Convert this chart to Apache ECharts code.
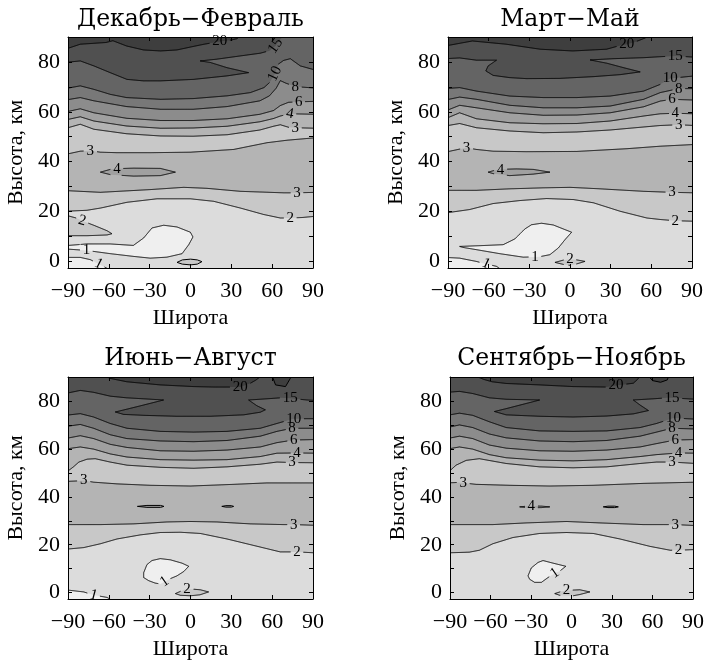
<!DOCTYPE html>
<html><head><meta charset="utf-8">
<script src="https://cdn.jsdelivr.net/npm/echarts@6/dist/echarts.min.js"></script>
<style>html,body{margin:0;background:#fff}#c{width:708px;height:661px}</style>
</head><body><div id="c"></div>
<script>
// ---------- axis ticks / labels ----------
const LAT_TICKS = [-90, -60, -30, 0, 30, 60, 90];
const ALT_LABELS = [0, 20, 40, 60, 80];
const ALT_TICKS = [0, 10, 20, 30, 40, 50, 60, 70, 80];
const LEVELS = [1, 2, 3, 4, 6, 8, 10, 15, 20];
const SHADES = ['#efefef','#dcdcdc','#c8c8c8','#b4b4b4','#a0a0a0','#8c8c8c','#787878','#646464','#505050','#3e3e3e'];
const TITLES = ['Декабрь−Февраль', 'Март−Май', 'Июнь−Август', 'Сентябрь−Ноябрь'];
const X_NAME = 'Широта';
const Y_NAME = 'Высота, км';
const YMIN = -2.65, YMAX = 90;

// ---------- Dec-Feb contour lines [lat, alt] ----------
const djf_c1a = [[-90,1.6],[-81,1.6],[-73.6,0.7],[-67.5,-1.0],[-61.3,-2.8]];
const djf_c1b = [[-90,6.3],[-76,7.0],[-59,7.0],[-42,6.4],[-34.4,9.4],[-28.3,13.4],[-19.7,14.5],[-9.9,13.8],[-0.1,11.7],[1.8,9.8],[-1.3,6.7],[-6.2,3.1],[-17.3,1.7],[-29.5,1.3],[-41.8,2.0],[-58.9,3.1],[-76.5,4.4],[-90,5.0]];
const djf_c2b = [[-90,18.6],[-84,17.4],[-79.7,16.3],[-71.1,14.5],[-61.3,12.3],[-57.7,11.1],[-61.3,10.6],[-76,10.3],[-90,10.3]];
const djf_c2c = [[-9.9,-0.4],[-6,0.6],[0,0.9],[5,0.6],[8.4,-0.1],[5,-1.1],[0,-1.4],[-6,-1.1]];
const djf_c2 = [[-90,20.1],[-76,20.5],[-66,21.4],[-46.7,23.7],[-24.6,25.1],[-0.1,25.1],[17,24.1],[36.6,21.4],[53.8,18.8],[66,17.4],[73.3,17.4],[82,17.6],[90,18.1]];
const djf_c3a = [[-90,28.4],[-66.2,27.7],[-29.5,28.8],[-5,29.7],[12.1,29.3],[36.6,28.1],[68.5,27.5],[78.2,27.5],[90,27.7]];
const djf_c4b = [[-66.2,35.8],[-58.9,36.9],[-54,37.2],[-41.8,37.4],[-22.2,37.3],[-11.1,35.8],[-22.2,34.4],[-41.8,34.2],[-58.9,34.8]];
const djf_c3b = [[-90,42.9],[-81,44.2],[-73.6,44.4],[-66.2,43.8],[-54,43.6],[-29.5,43.6],[0,43.8],[31.7,44.9],[56.2,47.6],[70.9,48.6],[90,49.6]];
const djf_c3c = [[-90,53.3],[-81,55],[-71,53],[-47,51.2],[-22,50.3],[2,50.2],[27,50.8],[51,52.7],[61,54.2],[66,54.8],[72,53.8],[77,53.6],[90,53.4]];
const djf_c4 = [[-90,56.7],[-81,58],[-71,56.3],[-47,54.3],[-22,53.4],[2,53.5],[27,54.2],[51,56],[61,57.3],[66,58.3],[73,59.2],[90,59]];
const djf_c6 = [[-90,59.9],[-81,61.2],[-71,59.6],[-47,57.4],[-22,56.5],[2,56.5],[27,57.2],[51,59],[61,60.5],[66,62.5],[72,63.8],[79.5,64],[90,64.2]];
const djf_c8 = [[-90,64.7],[-81,65.7],[-71,64.4],[-47,62.1],[-22,61],[2,61],[27,62.1],[51,64.4],[58,66.4],[63,69.5],[66,72.5],[70,71.5],[77,70.1],[90,69.5]];
const djf_c10 = [[-90,69.3],[-81,70.4],[-71,69],[-59,67],[-47,65.7],[-22,65],[2,65.3],[27,66.4],[44,67.7],[54,69.7],[58,71.7],[62,75.2],[64.5,79.1],[68.4,80.6],[73.3,81.3],[80.7,78.4],[90,76.7]];
const djf_c15 = [[-90,79.8],[-81,80.4],[-71,78.4],[-59,75.7],[-46.7,73],[-34.5,72.4],[-22,72.4],[2.3,73],[26.8,74.4],[42.7,75.7],[26.8,77.7],[14.5,79.8],[7.1,80.4],[19.3,81.1],[36.5,82.4],[51.3,83.5],[58,84.5],[62.5,86.5],[66,89.1],[68.5,90.5]];
const djf_c20 = [[-90,85.1],[-81,87.1],[-62,87.8],[-57,88.5],[-47,86.4],[-34.5,84.8],[-22,84.4],[-10,84.8],[2,86.2],[10,87.1],[21.5,88.2],[30,88.8],[34,89.3],[37,90.5]];

// ---------- Mar-May ----------
const mam_c1a = [[-90,1.6],[-81.4,1.3],[-69.2,0],[-62,-1],[-54.2,-2.0],[-52,-2.8]];
const mam_c1b = [[-81.4,6.0],[-66.6,6.3],[-49.3,6.7],[-40.7,9.0],[-33.3,13.0],[-28.4,14.7],[-21,15.3],[-12.3,14.6],[-4.9,13.0],[1.2,11.7],[-3.7,8.7],[-8.6,5.4],[-14.8,2.7],[-22.2,1.9],[-25.9,1.8],[-34.5,1.7],[-51.8,3.1],[-69,4.7],[-78.9,5.6]];
const mam_c2c = [[-11.1,-0.4],[-5,0.5],[0,0.9],[5,0.6],[11.1,0],[5,-1.0],[0,-1.6],[-5,-1.2]];
const mam_c2 = [[-90,19.4],[-74,20.8],[-56.7,23.2],[-37,24.4],[-17.3,25.2],[2.5,24.8],[17.3,23.5],[37,20.1],[56.7,17.4],[66.6,16.8],[77.7,16.3],[90,16.1]];
const mam_c3a = [[-90,28.5],[-69,28.5],[-44.4,29.1],[-19.7,29.5],[0,29.7],[22.2,29.1],[54.3,28.1],[75.2,27.7],[90,27.5]];
const mam_c4b = [[-60.4,35.8],[-55,36.6],[-51.8,36.9],[-39.4,37.1],[-27.1,36.9],[-14.8,35.8],[-27.1,35],[-44.4,34.4],[-56.7,35.2]];
const mam_c3b = [[-90,43.8],[-80,45.2],[-76.4,45.6],[-69,44.9],[-56.7,44.2],[-32,44],[5,44.1],[42,45.2],[66.6,46.2],[90,46.9]];
const mam_c3c = [[-90,54.3],[-81.4,55.3],[-69,53.6],[-44.4,52.3],[-19.7,51.6],[5,51.9],[29.6,52.7],[54.3,53.9],[66.6,54.5],[80.2,54.8],[90,54.5]];
const mam_c4 = [[-90,57.2],[-81.4,59.6],[-69,57.2],[-44.4,55.6],[-19.7,55.2],[5,55.3],[29.6,56.3],[54.3,58.3],[66.6,59.2],[77.7,59.4],[90,59.2]];
const mam_c6 = [[-90,60.3],[-81.4,62.6],[-69,61.6],[-44.4,59.6],[-19.7,58.6],[5,58.7],[29.6,59.6],[54.3,62],[66.6,64.3],[75.2,65],[90,64.7]];
const mam_c8 = [[-90,64.7],[-81.4,65.9],[-69,65],[-44.4,62.6],[-19.7,61.6],[5,61.6],[29.6,62.3],[54.3,65],[66.6,67.7],[80.2,69.3],[90,69.3]];
const mam_c10 = [[-90,69.3],[-81.4,69.7],[-69,68.3],[-44.4,66.3],[-19.7,65.7],[5,65.7],[29.6,66.3],[54.3,68.3],[66.6,71],[74,73.4],[90,74.4]];
const mam_c15 = [[-90,81.3],[-81.4,81.6],[-69,80.7],[-54.2,80.7],[-60.4,78.4],[-62.1,76.4],[-56.7,74.6],[-44.4,73.7],[-32,73.3],[-7.4,73.4],[17.3,74.1],[37,74.9],[51.8,76],[39.5,77.7],[27.1,79.5],[14.8,80.8],[32.1,81.3],[54.3,81.7],[66.6,82.1],[77.7,82.4],[90,81.9]];
const mam_c20 = [[-90,86.4],[-72,88.4],[-47,87.1],[-22,85.1],[2,84.4],[27,85.1],[35,86.3],[41.9,87.1],[48,88],[55,89.5],[58,90.4]];

// ---------- Jun-Aug ----------
const jja_c1a = [[-90,1.2],[-78.5,0.3],[-71.1,-1.0],[-61.3,-2],[-58.9,-2.8]];
const jja_c1b = [[-34.4,8.3],[-32,11.7],[-28.3,13.4],[-22.2,14.2],[-14.8,13.7],[-6.2,12.3],[-1.3,11],[-5,8.8],[-10,7],[-15,5.8],[-19,4.6],[-22,3.6],[-26,4],[-30.7,5],[-34.4,6.3]];
const jja_c2c = [[-11.1,-0.4],[-6,0.9],[-2.6,1.5],[3,1.4],[7.2,1.2],[13.3,0.3],[7,-0.9],[0,-1.3],[-7.5,-1.1]];
const jja_c2 = [[-90,18.1],[-78.5,18.8],[-66.2,20.4],[-54,22.4],[-36.9,24.1],[-22.2,25.1],[-7.5,25.2],[7.2,24.7],[26.8,22.4],[46.4,19.7],[66,17],[78.2,17],[90,16.6]];
const jja_c3a = [[-90,28.4],[-66.2,28.4],[-41.8,28.7],[-17.3,29.5],[0,29.7],[19.5,29.5],[44,28.7],[68.5,28.4],[75.8,28.4],[90,28.1]];
const jja_c4b = [[-39,36],[-32,36.4],[-22,36.4],[-19.5,36],[-22,35.6],[-32,35.6]];
const jja_c4c = [[23,36],[26,36.3],[30,36.3],[31.7,36],[30,35.7],[26,35.7]];
const jja_c3b = [[-90,46.4],[-84,46.6],[-78.5,46.8],[-71.1,46.1],[-54,45.4],[-29.5,44.8],[0,44.5],[31.7,45.2],[56.2,45.8],[90,45.8]];
const jja_c3c = [[-90,49.9],[-86,52.5],[-82,54.5],[-76,55.7],[-70,55.9],[-59,54.5],[-46.7,53.2],[-22.2,52.3],[2.3,51.9],[26.8,52.5],[51.3,53.6],[63.5,54.5],[74.6,54.3],[90,54.2]];
const jja_c4 = [[-90,59.9],[-81,60.8],[-71.2,59.9],[-59,57.9],[-46.7,56.6],[-22.2,55.5],[2.3,55.3],[26.8,55.5],[51.3,56.8],[63.5,58.2],[78.2,58.3],[90,58.2]];
const jja_c6 = [[-90,64.3],[-81,65.5],[-71.2,64.3],[-59,61.9],[-46.7,60.6],[-22.2,59.2],[2.3,59],[26.8,59.5],[51.3,60.8],[63.5,62.6],[75.8,63.7],[90,63.9]];
const jja_c8 = [[-90,69.3],[-81,70.2],[-71.2,68.6],[-59,65.9],[-46.7,64.3],[-22.2,63.3],[2.3,63],[26.8,63.5],[51.3,65.3],[63.5,67.3],[74.6,68.6],[90,68.6]];
const jja_c10 = [[-90,74],[-81,74.7],[-71.2,73.3],[-59,70.6],[-46.7,68.6],[-22.2,67.3],[2.3,67],[26.8,67.3],[51.3,68.6],[63.5,70.6],[75.8,72.6],[90,72.6]];
const jja_c15 = [[-90,83.1],[-81,84.4],[-71.2,83.6],[-59,82],[-46.7,81.3],[-34.5,80.9],[-19.8,80.4],[-29.6,79],[-39.4,77.6],[-51.6,75.9],[-55.3,75.4],[-49.2,74.4],[-34.5,74],[-10,73.6],[14.5,73.6],[39,74.2],[51.3,75.3],[55,76.3],[48.8,78],[42.7,80.4],[56.2,80.9],[66,81.3],[73.3,81.1],[85.6,80.4],[90,80.2]];
const jja_c20 = [[-63,90.4],[-58.9,89.4],[-46.7,88],[-22.2,86.7],[2.3,86],[17,85.8],[36.6,85.8],[44,87.4],[48,88.7],[52,90.4]];
const jja_c20b = [[60,90.4],[62.5,86.7],[69.8,86],[73.3,89.4],[74,90.4]];

// ---------- Sep-Nov ----------
const son_c1b = [[-32.2,7],[-29.8,10.3],[-24.8,12.6],[-21.1,13.4],[-13.6,12.3],[-4.2,11],[-8.7,9],[-12.4,8.1],[-17.4,6.3],[-22.3,4.3],[-27.3,4.3],[-31,5.6]];
const son_c2c = [[-12.4,-0.4],[-7,0.6],[-3.7,0.9],[2,1.1],[6.2,1.2],[13.6,0.3],[6,-0.8],[1.2,-1.3],[-8.7,-1.1]];
const son_c2 = [[-90,16.6],[-75.6,16.9],[-68.2,17.7],[-58.3,20.4],[-43.4,23],[-23.6,24.7],[-3.7,25.1],[16.1,24.7],[35.9,22.4],[58.2,19.3],[73.1,17.7],[79.3,17.7],[90,18]];
const son_c3a = [[-90,28.4],[-58.3,28.4],[-33.5,29.1],[-3.7,29.7],[21.1,29.1],[53.3,28.4],[76.8,28.4],[90,28]];
const son_c4b = [[-38.4,35.8],[-33,36.1],[-29.8,36.2],[-22,36.1],[-16.1,35.8],[-22,35.5],[-30,35.4],[-33,35.5]];
const son_c4c = [[23.5,35.8],[27,36.1],[32,36.1],[34.7,35.8],[32,35.5],[27,35.5]];
const son_c3b = [[-90,45.8],[-84,46],[-80.1,45.8],[-70.7,45.2],[-45.9,44.8],[-16.1,44.5],[16.1,44.8],[53.3,45.6],[90,46.1]];
const son_c3c = [[-90,49.9],[-85.5,53.2],[-78,55.2],[-68.3,55.9],[-48.4,53.9],[-23.6,52.5],[1.2,52.1],[26,52.5],[50.8,53.9],[63,54.5],[74.4,54.5],[90,53.9]];
const son_c4 = [[-90,59.9],[-83,60.8],[-73.2,59.9],[-60.8,57.6],[-48.4,56.3],[-23.6,55.3],[1.2,55],[26,55.5],[50.8,56.8],[63,57.6],[79.3,58.3],[90,58.2]];
const son_c6 = [[-90,64.3],[-83,65.3],[-73.2,64.3],[-60.8,61.6],[-48.4,60.3],[-23.6,59.2],[1.2,59],[26,59.5],[50.8,60.8],[63,62.2],[76.8,63.7],[90,63.9]];
const son_c8 = [[-90,68.9],[-83,70],[-73.2,68.9],[-60.8,66.2],[-48.4,64.6],[-23.6,63.3],[1.2,63],[26,63.5],[50.8,65.3],[63,67],[74.4,68.6],[90,68.3]];
const son_c10 = [[-90,74],[-83,74.9],[-73.2,74],[-60.8,71.3],[-48.4,68.9],[-23.6,67.5],[1.2,67.3],[26,67.5],[50.8,68.9],[63,70.6],[75.6,72.9],[90,72.4]];
const son_c15 = [[-90,83.6],[-83,84],[-73.2,83.1],[-60.8,81.3],[-48.4,80.7],[-23.6,80.4],[-36,78.6],[-48.4,76.8],[-57.1,75.6],[-48.4,74.2],[-23.6,73.6],[1.2,73.3],[26,73.7],[45.8,74.6],[57,76],[50.8,78.3],[45.8,80.4],[60.7,80.9],[70.6,81.3],[74.4,81.3],[90,80.7]];
const son_c20 = [[-71,90.4],[-65,89],[-58.8,88],[-48.4,87.3],[-23.6,86.7],[1.2,86],[26,85.8],[33,86.5],[45.8,87.4],[48.4,88.7],[51,90.4]];
const son_c20b = [[57,90.4],[60,88.5],[66,87.8],[71,88.8],[72,90.4]];

// ---------- layers: [line, shade index of the side it encloses, mode] ----------
const djf_fills = [
  [djf_c2,2,'up'],[djf_c3a,3,'up'],[djf_c3b,2,'up'],[djf_c3c,3,'up'],[djf_c4,4,'up'],[djf_c6,5,'up'],
  [djf_c8,6,'up'],[djf_c10,7,'up'],[djf_c15,8,'up'],[djf_c20,9,'up'],
  [djf_c1a,0,'down'],[djf_c1b,0,'closed'],[djf_c2b,2,'closed'],[djf_c2c,2,'closed'],[djf_c4b,4,'closed']];
const mam_fills = [
  [mam_c2,2,'up'],[mam_c3a,3,'up'],[mam_c3b,2,'up'],[mam_c3c,3,'up'],[mam_c4,4,'up'],[mam_c6,5,'up'],
  [mam_c8,6,'up'],[mam_c10,7,'up'],[mam_c15,8,'up'],[mam_c20,9,'up'],
  [mam_c1a,0,'down'],[mam_c1b,0,'closed'],[mam_c2c,2,'closed'],[mam_c4b,4,'closed']];
const jja_fills = [
  [jja_c2,2,'up'],[jja_c3a,3,'up'],[jja_c3b,2,'up'],[jja_c3c,3,'up'],[jja_c4,4,'up'],[jja_c6,5,'up'],
  [jja_c8,6,'up'],[jja_c10,7,'up'],[jja_c15,8,'up'],[jja_c20,9,'up'],[jja_c20b,9,'closed'],
  [jja_c1a,0,'down'],[jja_c1b,0,'closed'],[jja_c2c,2,'closed'],[jja_c4b,4,'closed'],[jja_c4c,4,'closed']];
const son_fills = [
  [son_c2,2,'up'],[son_c3a,3,'up'],[son_c3b,2,'up'],[son_c3c,3,'up'],[son_c4,4,'up'],[son_c6,5,'up'],
  [son_c8,6,'up'],[son_c10,7,'up'],[son_c15,8,'up'],[son_c20,9,'up'],[son_c20b,9,'closed'],
  [son_c1b,0,'closed'],[son_c2c,2,'closed'],[son_c4b,4,'closed'],[son_c4c,4,'closed']];

// ---------- contour labels: [line, text, lat, alt, rotation deg] ----------
const djf_labels = [
  [djf_c20,'20',21.5,88.2,0],[djf_c15,'15',62.5,86.5,55],[djf_c10,'10',62,75.2,65],[djf_c8,'8',77,70.1,0],
  [djf_c6,'6',79.5,64,0],[djf_c4,'4',73,59.2,-10],[djf_c3c,'3',77,53.6,0],[djf_c3b,'3',-73.6,44.4,0],
  [djf_c4b,'4',-54,36.9,0],[djf_c3a,'3',78.2,27.5,0],[djf_c2,'2',73.3,17.4,0],[djf_c2b,'2',-79.7,16.3,-15],
  [djf_c1b,'1',-76.5,4.4,0],[djf_c1a,'1',-67.5,-1.0,-27]];
const mam_labels = [
  [mam_c20,'20',41.9,87.1,0],[mam_c15,'15',77.7,82.4,0],[mam_c10,'10',74,73.4,0],[mam_c8,'8',80.2,69.3,0],
  [mam_c6,'6',75.2,65,0],[mam_c4,'4',77.7,59.4,0],[mam_c3c,'3',80.2,54.8,0],[mam_c3b,'3',-76.4,45.6,0],
  [mam_c4b,'4',-51.3,36.8,0],[mam_c3a,'3',75.2,27.7,0],[mam_c2,'2',77.7,16.3,0],[mam_c1b,'1',-25.9,1.8,0],
  [mam_c2c,'2',0,0.9,0],[mam_c1a,'1',-62,-1,-25]];
const jja_labels = [
  [jja_c20,'20',36.6,85.8,0],[jja_c15,'15',73.3,81.1,0],[jja_c10,'10',75.8,72.6,0],[jja_c8,'8',74.6,68.6,0],
  [jja_c6,'6',75.8,63.7,0],[jja_c4,'4',78.2,58.3,0],[jja_c3c,'3',74.6,54.3,0],[jja_c3b,'3',-78.5,46.8,0],
  [jja_c3a,'3',75.8,28.4,0],[jja_c2,'2',78.2,17,0],[jja_c1b,'1',-19,4.6,35],[jja_c2c,'2',-2.6,1.5,0],
  [jja_c1a,'1',-71.1,-1.0,-15]];
const son_labels = [
  [son_c20,'20',33,86.5,0],[son_c15,'15',74.4,81.3,0],[son_c10,'10',75.6,72.9,0],[son_c8,'8',74.4,68.6,0],
  [son_c6,'6',76.8,63.7,0],[son_c4,'4',79.3,58.3,0],[son_c3c,'3',74.4,54.5,0],[son_c3b,'3',-80.1,45.8,0],
  [son_c4b,'4',-29.8,36,0],[son_c3a,'3',76.8,28.4,0],[son_c2,'2',79.3,17.7,0],[son_c1b,'1',-12.4,8.1,35],
  [son_c2c,'2',-3.7,0.9,0]];

const PANEL_FILLS = [djf_fills, mam_fills, jja_fills, son_fills];
const PANEL_LABELS = [djf_labels, mam_labels, jja_labels, son_labels];
const GRIDS = [
  {left: 68, top: 37, width: 245, height: 231},
  {left: 448, top: 37, width: 244, height: 231},
  {left: 68, top: 377, width: 245, height: 230},
  {left: 450, top: 377, width: 243, height: 230}];

const SERIF = '"Liberation Serif", "Times New Roman", serif';
const TITLE_FONT = '"DejaVu Serif", serif';
const LABEL_FS = 15;

function fmt(v) { return v < 0 ? '\u2212' + (-v) : String(v); }
function ex(p) { return [p[0] <= -90 ? -92 : (p[0] >= 90 ? 92 : p[0]), p[1]]; }

function labelBoxes(labels, line, api) {
  return labels.filter(l => l[0] === line).map(l => {
    const c = api.coord([l[2], l[3]]);
    return {x: c[0], y: c[1], hw: l[1].length * LABEL_FS * 0.25 + 2.5, hh: LABEL_FS * 0.33 + 1, r: l[4] * Math.PI / 180};
  });
}
function inGap(x, y, gaps) {
  for (const g of gaps) {
    const dx = x - g.x, dy = y - g.y;
    const u = dx * Math.cos(g.r) - dy * Math.sin(g.r);
    const v = dx * Math.sin(g.r) + dy * Math.cos(g.r);
    if (Math.abs(u) < g.hw && Math.abs(v) < g.hh) return true;
  }
  return false;
}
function cutRuns(pix, gaps) {
  if (!gaps.length) return [pix];
  const runs = []; let cur = [];
  for (let i = 0; i < pix.length - 1; i++) {
    const [x0, y0] = pix[i], [x1, y1] = pix[i + 1];
    const n = Math.max(1, Math.ceil(Math.hypot(x1 - x0, y1 - y0) / 0.5));
    for (let k = (i === 0 ? 0 : 1); k <= n; k++) {
      const t = k / n, x = x0 + (x1 - x0) * t, y = y0 + (y1 - y0) * t;
      if (inGap(x, y, gaps)) { if (cur.length > 1) runs.push(cur); cur = []; }
      else cur.push([x, y]);
    }
  }
  if (cur.length > 1) runs.push(cur);
  return runs;
}

const xAxes = [], yAxes = [], series = [], graphics = [];
GRIDS.forEach((g, pi) => {
  const common = {type: 'value', gridIndex: pi, z: 10, splitLine: {show: false},
    axisLine: {show: true, onZero: false, lineStyle: {color: '#000', width: 1}}};
  const nameStyle = {fontFamily: SERIF, fontSize: 22, color: '#000'};
  xAxes.push(Object.assign({}, common, {position: 'bottom', min: -90, max: 90, interval: 30,
    axisTick: {show: true, inside: true, length: 4, customValues: LAT_TICKS, lineStyle: {color: '#000'}},
    axisLabel: {show: true, customValues: LAT_TICKS, formatter: fmt, margin: 12, color: '#000', fontFamily: SERIF, fontSize: 22},
    name: X_NAME, nameLocation: 'middle', nameGap: 39, nameTextStyle: nameStyle}));
  xAxes.push(Object.assign({}, common, {position: 'top', min: -90, max: 90, interval: 30,
    axisTick: {show: true, inside: true, length: 4, customValues: LAT_TICKS, lineStyle: {color: '#000'}},
    axisLabel: {show: false}}));
  yAxes.push(Object.assign({}, common, {position: 'left', min: YMIN, max: YMAX,
    axisTick: {show: true, inside: true, length: 4, customValues: ALT_TICKS, lineStyle: {color: '#000'}},
    axisLabel: {show: true, customValues: ALT_LABELS, margin: 8, color: '#000', fontFamily: SERIF, fontSize: 22},
    name: Y_NAME, nameLocation: 'middle', nameGap: 41, nameRotate: 90, nameTextStyle: nameStyle}));
  yAxes.push(Object.assign({}, common, {position: 'right', min: YMIN, max: YMAX,
    axisTick: {show: true, inside: true, length: 4, customValues: ALT_TICKS, lineStyle: {color: '#000'}},
    axisLabel: {show: false}}));

  const fills = PANEL_FILLS[pi], labels = PANEL_LABELS[pi];
  const base = {type: 'custom', coordinateSystem: 'cartesian2d', xAxisIndex: 2 * pi, yAxisIndex: 2 * pi, clip: true, silent: true, animation: false};
  series.push(Object.assign({}, base, {z: 2, data: fills.map(() => [0, 40]),
    renderItem: (params, api) => {
      const [pts, shade, mode] = fills[params.dataIndex];
      let poly = pts.map(ex);
      const f = poly[0], l = poly[poly.length - 1];
      if (mode === 'up') poly = poly.concat([[l[0], YMAX + 2], [f[0], YMAX + 2]]);
      if (mode === 'down') poly = poly.concat([[l[0], YMIN - 2], [f[0], YMIN - 2]]);
      return {type: 'polygon', shape: {points: poly.map(p => api.coord(p))}, style: {fill: SHADES[shade], stroke: null}};
    }}));
  series.push(Object.assign({}, base, {z: 3, data: fills.map(() => [0, 40]),
    renderItem: (params, api) => {
      const [pts, , mode] = fills[params.dataIndex];
      let p = pts.map(ex);
      if (mode === 'closed') p = p.concat([p[0]]);
      const pix = p.map(q => api.coord(q));
      const runs = cutRuns(pix, labelBoxes(labels, pts, api));
      return {type: 'group', children: runs.map(r => ({type: 'polyline', shape: {points: r},
        style: {stroke: '#000', lineWidth: 1, fill: null}}))};
    }}));
  series.push(Object.assign({}, base, {z: 4, clip: false, data: labels.map(l => [l[2], l[3]]),
    renderItem: (params, api) => {
      const l = labels[params.dataIndex];
      const c = api.coord([l[2], l[3]]);
      return {type: 'text', x: c[0], y: c[1], rotation: l[4] * Math.PI / 180,
        style: {text: l[1], fill: '#000', align: 'center', verticalAlign: 'middle', font: LABEL_FS + 'px ' + SERIF}};
    }}));
  graphics.push({type: 'text', x: g.left + g.width / 2, y: pi < 2 ? 20 : 359,
    style: {text: TITLES[pi], fill: '#000', align: 'center', verticalAlign: 'middle', font: '23.5px ' + TITLE_FONT}});
});

const chart = echarts.init(document.getElementById('c'), null, {renderer: 'canvas'});
chart.setOption({
  backgroundColor: '#fff', animation: false,
  grid: GRIDS.map(g => Object.assign({show: true, backgroundColor: SHADES[1], borderWidth: 0}, g)),
  xAxis: xAxes, yAxis: yAxes, series: series, graphic: graphics
});
</script></body></html>
